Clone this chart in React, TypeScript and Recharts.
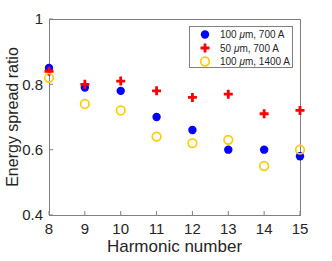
import React from "react";
import { Scatter, ScatterChart, XAxis, YAxis } from "recharts";

const harmonics = [8, 9, 10, 11, 12, 13, 14, 15];
const blue100um700A = [0.85, 0.79, 0.78, 0.7, 0.66, 0.6, 0.6, 0.58];
const red50um700A = [0.84, 0.8, 0.81, 0.78, 0.76, 0.77, 0.71, 0.72];
const yellow100um1400A = [0.82, 0.74, 0.72, 0.64, 0.62, 0.63, 0.55, 0.6];
const yTicks = [0.4, 0.6, 0.8, 1];
const seriesNames = ["100 \u03bcm, 700 A", "50 \u03bcm, 700 A", "100 \u03bcm, 1400 A"];

const toPoints = (vals: number[]) => harmonics.map((h, i) => ({ x: h, y: vals[i] }));

const AXIS = "#808080";
const TEXT = "#262626";
const FONT = "'Liberation Sans', Arial, sans-serif";

const Dot = (props: any) => (
  <circle cx={props.cx} cy={props.cy} r={4.2} fill="#0000FF" />
);
const Plus = (props: any) => {
  const { cx, cy } = props;
  return (
    <path
      d={`M${cx - 4.5},${cy}H${cx + 4.5}M${cx},${cy - 4.5}V${cy + 4.5}`}
      stroke="#FF0000"
      strokeWidth={2.8}
    />
  );
};
const Ring = (props: any) => (
  <circle cx={props.cx} cy={props.cy} r={4.3} fill="none" stroke="#FFCC00" strokeWidth={1.7} />
);

const markers = [Dot, Plus, Ring];

const LegendBox = () => (
  <div
    style={{
      position: "absolute",
      left: 189,
      top: 26,
      width: 104,
      height: 42,
      border: `1px solid ${AXIS}`,
      background: "#fff",
      boxSizing: "border-box",
    }}
  >
    <svg width={102} height={40} style={{ display: "block" }}>
      {seriesNames.map((name, i) => {
        const M = markers[i];
        const cy = 7.5 + i * 13.5;
        const [num, rest] = name.split(" \u03bcm");
        return (
          <g key={name}>
            <M cx={15} cy={cy} />
            <text x={30} y={cy + 3.6} fontSize={10} fontFamily={FONT} fill={TEXT}>
              {num + " "}
              <tspan fontStyle="italic">{"\u03bc"}</tspan>
              {"m" + rest}
            </text>
          </g>
        );
      })}
    </svg>
  </div>
);

export default function App() {
  return (
    <div style={{ position: "absolute", left: 0, top: 0, width: 332, height: 261, background: "#fff" }}>
      {/* box around plot area (MATLAB "box on"), drawn under the markers */}
      <div
        style={{
          position: "absolute",
          left: 49,
          top: 19,
          width: 252,
          height: 197,
          borderStyle: "solid",
          borderWidth: 1,
          borderColor: AXIS,
          boxSizing: "border-box",
          pointerEvents: "none",
        }}
      />
      <ScatterChart
        width={332}
        height={261}
        margin={{ top: 19, right: 32, bottom: 0, left: 0 }}
        style={{ fontFamily: FONT }}
      >
        <XAxis
          type="number"
          dataKey="x"
          domain={[8, 15]}
          ticks={harmonics}
          height={46}
          stroke={AXIS}
          axisLine={false}
          tickSize={-4}
          tickMargin={12}
          tick={{ fill: TEXT, fontSize: 15 }}
          label={{
            value: "Harmonic number",
            position: "insideBottom",
            offset: 9,
            fill: TEXT,
            fontSize: 17,
          }}
        />
        <YAxis
          type="number"
          dataKey="y"
          domain={[0.4, 1]}
          ticks={yTicks}
          width={49}
          stroke={AXIS}
          axisLine={false}
          tickSize={-4}
          tickMargin={10}
          tickFormatter={(v: number) => (v === 1 ? "1" : v.toFixed(1))}
          tick={{ fill: TEXT, fontSize: 15 }}
          label={{
            value: "Energy spread ratio",
            angle: -90,
            position: "insideLeft",
            offset: 12,
            fill: TEXT,
            fontSize: 16,
            style: { textAnchor: "middle" },
          }}
        />
        <Scatter
          name={seriesNames[0]}
          data={toPoints(blue100um700A)}
          shape={<Dot />}
          isAnimationActive={false}
        />
        <Scatter
          name={seriesNames[1]}
          data={toPoints(red50um700A)}
          shape={<Plus />}
          isAnimationActive={false}
        />
        <Scatter
          name={seriesNames[2]}
          data={toPoints(yellow100um1400A)}
          shape={<Ring />}
          isAnimationActive={false}
        />
      </ScatterChart>
      <LegendBox />
    </div>
  );
}
